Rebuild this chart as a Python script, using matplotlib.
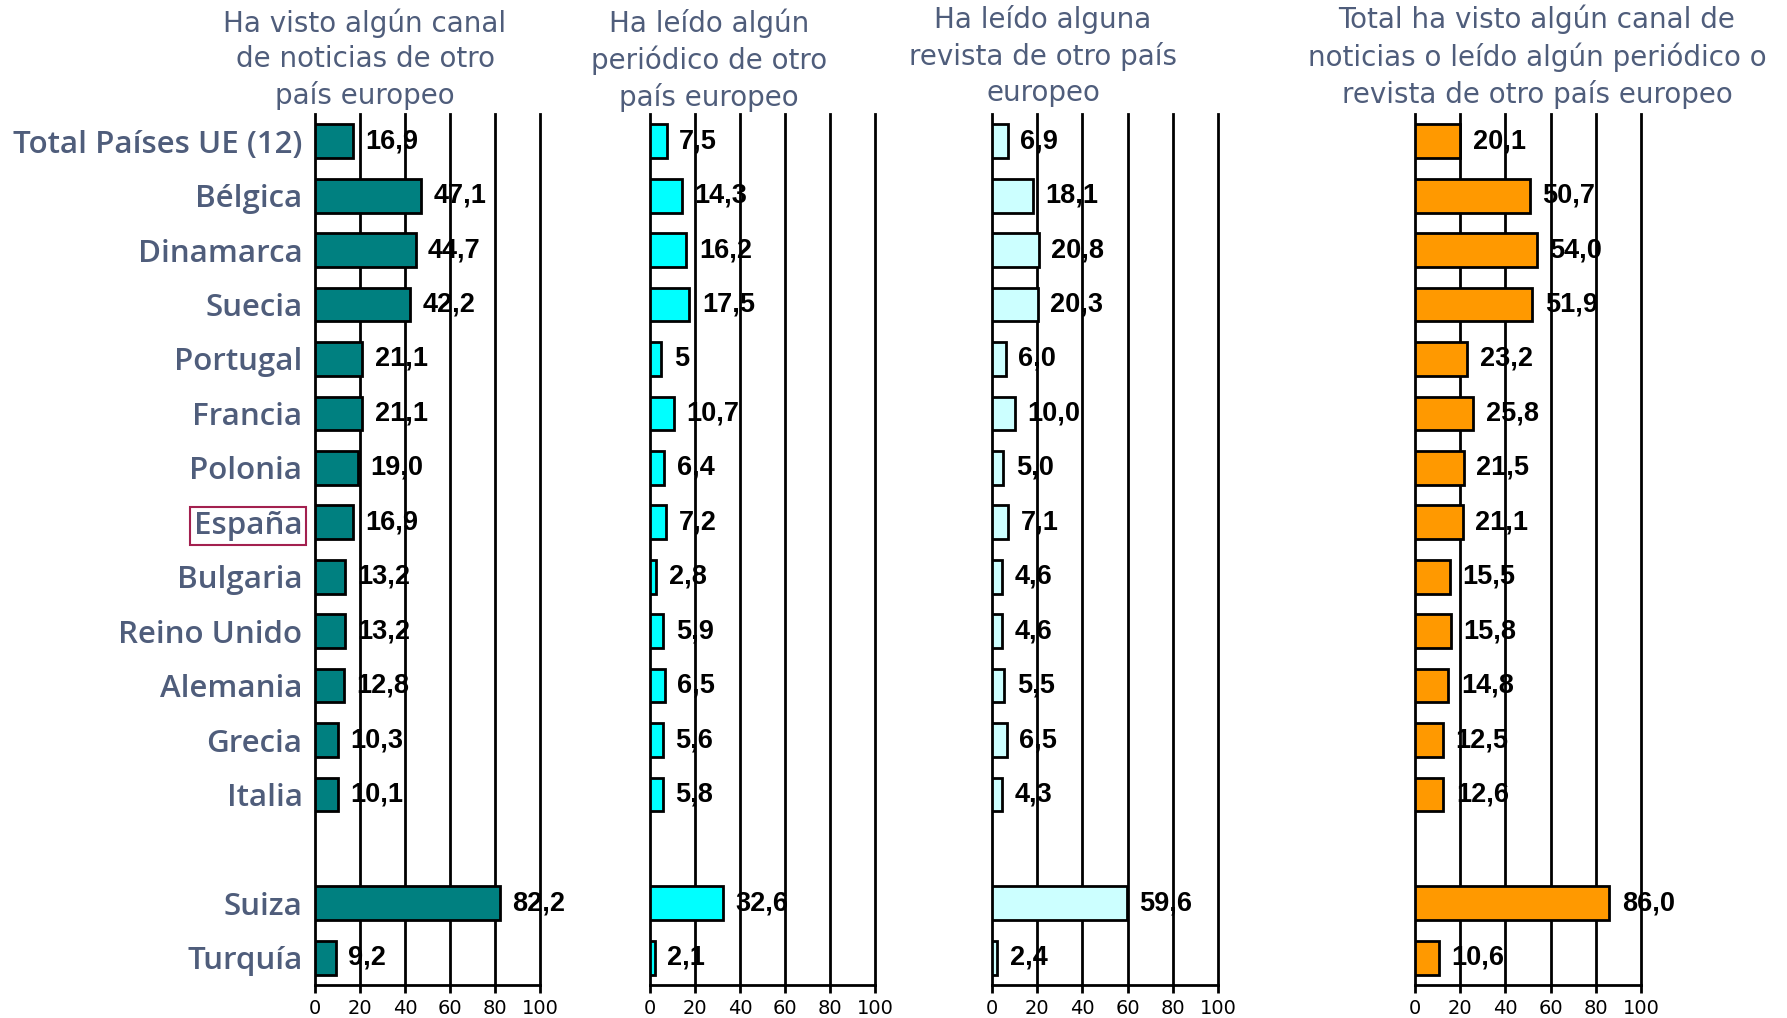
import matplotlib
matplotlib.use("Agg")
import matplotlib.pyplot as plt

# ---------------------------------------------------------------
# data (percentages as printed in the chart)
# ---------------------------------------------------------------
categories = ["Total Países UE (12)", "Bélgica", "Dinamarca", "Suecia",
              "Portugal", "Francia", "Polonia", "España", "Bulgaria",
              "Reino Unido", "Alemania", "Grecia", "Italia",
              "Suiza", "Turquía"]

canal_tv = [16.9, 47.1, 44.7, 42.2, 21.1, 21.1, 19.0, 16.9, 13.2,
            13.2, 12.8, 10.3, 10.1, 82.2, 9.2]
periodico = [7.5, 14.3, 16.2, 17.5, 5, 10.7, 6.4, 7.2, 2.8,
             5.9, 6.5, 5.6, 5.8, 32.6, 2.1]
revista = [6.9, 18.1, 20.8, 20.3, 6.0, 10.0, 5.0, 7.1, 4.6,
           4.6, 5.5, 6.5, 4.3, 59.6, 2.4]
total = [20.1, 50.7, 54.0, 51.9, 23.2, 25.8, 21.5, 21.1, 15.5,
         15.8, 14.8, 12.5, 12.6, 86.0, 10.6]

titles = ["Ha visto algún canal\nde noticias de otro\npaís europeo",
          "Ha leído algún\nperiódico de otro\npaís europeo",
          "Ha leído alguna\nrevista de otro país\neuropeo",
          "Total ha visto algún canal de\nnoticias o leído algún periódico o\nrevista de otro país europeo"]

x_ticks = [0, 20, 40, 60, 80, 100]
highlight = "España"

# ---------------------------------------------------------------
# layout / style
# ---------------------------------------------------------------
W, H = 1787, 1018
fig = plt.figure(figsize=(W / 100, H / 100), dpi=100)

series = [canal_tv, periodico, revista, total]
colors = ["#008080", "#00FFFF", "#CCFFFF", "#FF9900"]
ax_x = [(315, 540), (650, 875), (992, 1218), (1415, 1641)]
title_x = [365, 709, 1043, 1537]
title_top = [8, 8, 5, 5]
top_px, bot_px = 114, 985
text_col = "#4F5D7B"

# one empty slot between Italia and Suiza
rows = list(range(13)) + [14, 15]


def fmt(v):
    if isinstance(v, int):
        return str(v)
    return f"{v:.1f}".replace(".", ",")


for i, (vals, col) in enumerate(zip(series, colors)):
    x0, x1 = ax_x[i]
    ax = fig.add_axes([x0 / W, 1 - bot_px / H, (x1 - x0) / W, (bot_px - top_px) / H])
    ax.set_xlim(0, 100)
    ax.set_ylim(15.5, -0.5)

    # vertical grid lines drawn under the bars
    for t in x_ticks:
        ax.axvline(t, color="black", lw=2, zorder=1, clip_on=False)

    ax.barh(rows, vals, height=0.62, color=col, edgecolor="black",
            linewidth=2, zorder=2)
    for r, v in zip(rows, vals):
        ax.text(v + 5.5, r, fmt(v), va="center", ha="left", fontsize=19.5,
                fontweight="bold", family=["Liberation Sans", "DejaVu Sans"],
                color="black", zorder=3)

    for s in ["top", "right", "left"]:
        ax.spines[s].set_visible(False)
    ax.spines["bottom"].set_linewidth(2)
    ax.set_xticks(x_ticks)
    ax.tick_params(axis="x", length=6, width=2, pad=4)
    for lab in ax.get_xticklabels():
        lab.set_family(["DejaVu Sans"])
        lab.set_fontsize(14)

    if i == 0:
        ax.set_yticks(rows)
        ax.set_yticklabels(categories, fontsize=22.5, fontweight="semibold",
                           family=["Open Sans", "DejaVu Sans"], color=text_col)
        ax.tick_params(axis="y", length=0, pad=9)
        for lab in ax.get_yticklabels():
            if lab.get_text() == highlight:
                lab.set_bbox(dict(boxstyle="square,pad=0.12", fc="none",
                                  ec="#A3204F", lw=1.5))
    else:
        ax.set_yticks([])

    fig.text(title_x[i] / W, 1 - title_top[i] / H, titles[i], ha="center",
             va="top", fontsize=20, color=text_col, linespacing=1.35,
             family=["DejaVu Sans"])

fig.savefig("out.png", dpi=100)
